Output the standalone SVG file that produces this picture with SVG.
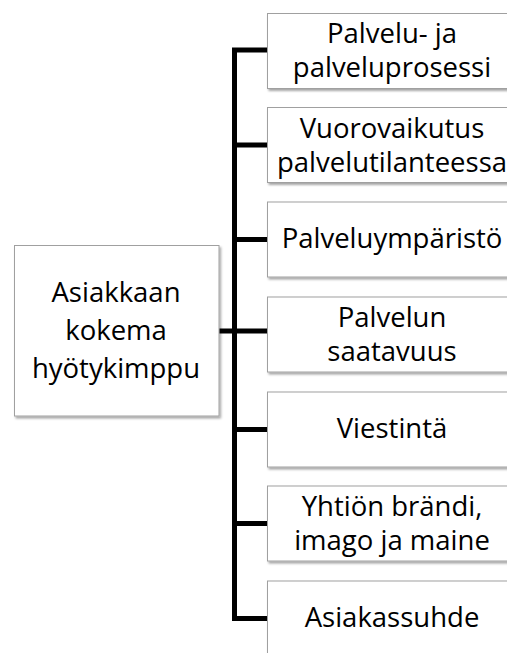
<svg xmlns="http://www.w3.org/2000/svg" width="507" height="653" viewBox="0 0 507 653">
  <defs>
    <filter id="shadow" x="-10%" y="-10%" width="130%" height="130%">
      <feDropShadow dx="1.5" dy="2" stdDeviation="1.2" flood-color="#000" flood-opacity="0.35"/>
    </filter>
    <style>
      .box { fill: #ffffff; stroke: #a0a0a0; stroke-width: 1; filter: url(#shadow); }
      .lbl { font-family: "Open Sans", "Liberation Sans", sans-serif; font-size: 27.5px; fill: #000; text-anchor: middle; font-variant-ligatures: none; }
      .conn { fill: none; stroke: #000; stroke-width: 5; stroke-linejoin: miter; stroke-linecap: butt; }
    </style>
  </defs>
  <rect width="507" height="653" fill="#ffffff"/>
  <g id="connectors">
    <path class="conn" d="M267,50 H234.5 V618.5 H267"/>
    <path class="conn" d="M234.5,145 H267"/>
    <path class="conn" d="M234.5,239.5 H267"/>
    <path class="conn" d="M219,331 H267"/>
    <path class="conn" d="M234.5,429.5 H267"/>
    <path class="conn" d="M234.5,523.5 H267"/>
  </g>
  <g id="root">
    <rect class="box" x="14.5" y="245.5" width="204.5" height="170.5"/>
    <text class="lbl" x="116" y="302">Asiakkaan</text>
    <text class="lbl" x="116" y="339.5">kokema</text>
    <text class="lbl" x="116" y="377.5">hyötykimppu</text>
  </g>
  <g id="n1">
    <rect class="box" x="267.5" y="13.5" width="250" height="75"/>
    <text class="lbl" x="392" y="43.3">Palvelu- ja</text>
    <text class="lbl" x="392" y="77.3">palveluprosessi</text>
  </g>
  <g id="n2">
    <rect class="box" x="267.5" y="107.5" width="250" height="75"/>
    <text class="lbl" x="392" y="137.5">Vuorovaikutus</text>
    <text class="lbl" x="392" y="171.5">palvelutilanteessa</text>
  </g>
  <g id="n3">
    <rect class="box" x="267.5" y="202" width="250" height="75"/>
    <text class="lbl" x="392" y="248">Palveluympäristö</text>
  </g>
  <g id="n4">
    <rect class="box" x="267.5" y="297" width="250" height="75"/>
    <text class="lbl" x="392" y="327">Palvelun</text>
    <text class="lbl" x="392" y="361">saatavuus</text>
  </g>
  <g id="n5">
    <rect class="box" x="267.5" y="392" width="250" height="75"/>
    <text class="lbl" x="392" y="438">Viestintä</text>
  </g>
  <g id="n6">
    <rect class="box" x="267.5" y="486" width="250" height="75"/>
    <text class="lbl" x="392" y="515.5">Yhtiön brändi,</text>
    <text class="lbl" x="392" y="549.5">imago ja maine</text>
  </g>
  <g id="n7">
    <rect class="box" x="267.5" y="581" width="250" height="75"/>
    <text class="lbl" x="392" y="627">Asiakassuhde</text>
  </g>
</svg>
